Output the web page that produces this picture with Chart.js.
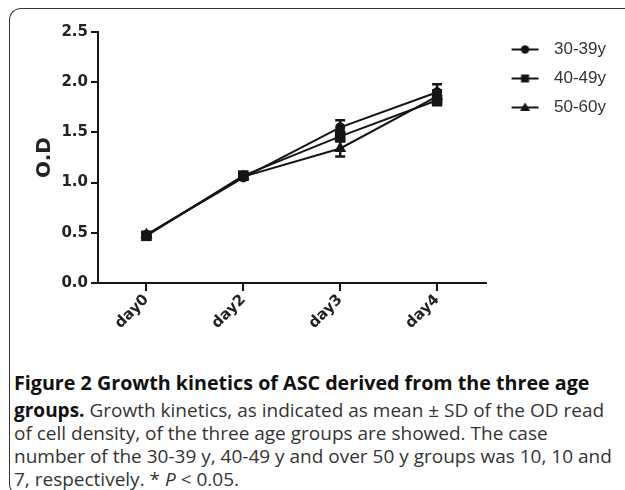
<!DOCTYPE html>
<html>
<head>
<meta charset="utf-8">
<script src="https://cdn.jsdelivr.net/npm/chart.js@4.4.1/dist/chart.umd.min.js"></script>
<style>
  html, body { margin: 0; padding: 0; background: #fff; }
  body { width: 625px; height: 490px; position: relative; overflow: hidden; }
  .frame { position: absolute; left: 9px; top: 8px; width: 700px; height: 486px; border: 1.5px solid #333; border-right: none; border-radius: 12px 0 0 12px; }
  #chart { position: absolute; left: 0; top: 0; }
  .caption { position: absolute; left: 14px; font-family: "Open Sans", sans-serif; font-size: 19px; color: #333; white-space: nowrap; line-height: 1; }
  .caption b { color: #111; }
</style>
</head>
<body>
<div class="frame"></div>
<canvas id="chart" width="625" height="360"></canvas>
<div class="caption" style="top:373px; font-size:19.7px"><b>Figure 2 Growth kinetics of ASC derived from the three age</b></div>
<div class="caption" style="top:401px"><b>groups.</b> Growth kinetics, as indicated as mean ± SD of the OD read</div>
<div class="caption" style="top:424px">of cell density, of the three age groups are showed. The case</div>
<div class="caption" style="top:447px">number of the 30-39 y, 40-49 y and over 50 y groups was 10, 10 and</div>
<div class="caption" style="top:470px">7, respectively. * <i>P</i> &lt; 0.05.</div>
<script>
  const days = ['day0', 'day2', 'day3', 'day4'];
  const groups = ['30-39y', '40-49y', '50-60y'];
  const markers = ['circle', 'rect', 'triangle'];
  const od3039 = [0.48, 1.05, 1.55, 1.90];
  const od4049 = [0.47, 1.07, 1.46, 1.82];
  const od5060 = [0.48, 1.06, 1.34, 1.86];
  const sd3039 = [0.02, 0.02, 0.07, 0.08];
  const sd4049 = [0.02, 0.02, 0.05, 0.05];
  const sd5060 = [0.02, 0.02, 0.08, 0.06];
  const yTicks = [0, 0.5, 1.0, 1.5, 2.0, 2.5];

  const ink = '#151515';
  const tickFont = { family: 'DejaVu Sans', weight: 'bold', size: 15 };

  // small line + marker picture used as the legend symbol
  function legendIcon(kind) {
    const c = document.createElement('canvas');
    c.width = 48; c.height = 17;
    const g = c.getContext('2d');
    g.strokeStyle = ink; g.fillStyle = ink; g.lineWidth = 2;
    g.beginPath(); g.moveTo(14, 8.5); g.lineTo(41, 8.5); g.stroke();
    g.beginPath();
    if (kind === 'circle') g.arc(27.5, 8.5, 4.2, 0, Math.PI * 2);
    else if (kind === 'rect') g.rect(23.5, 4.5, 8, 8);
    else { g.moveTo(27.5, 3.5); g.lineTo(32.5, 12); g.lineTo(22.5, 12); g.closePath(); }
    g.fill();
    return c;
  }

  const errorBars = {
    id: 'errorBars',
    afterDatasetsDraw(chart) {
      const ctx = chart.ctx;
      const y = chart.scales.y;
      ctx.save();
      ctx.strokeStyle = ink;
      ctx.lineWidth = 2.5;
      chart.data.datasets.forEach((ds, di) => {
        chart.getDatasetMeta(di).data.forEach((pt, i) => {
          const top = y.getPixelForValue(ds.data[i] + ds.sd[i]);
          const bot = y.getPixelForValue(ds.data[i] - ds.sd[i]);
          ctx.beginPath();
          ctx.moveTo(pt.x, top); ctx.lineTo(pt.x, bot);
          ctx.moveTo(pt.x - 5, top); ctx.lineTo(pt.x + 5, top);
          ctx.moveTo(pt.x - 5, bot); ctx.lineTo(pt.x + 5, bot);
          ctx.stroke();
        });
      });
      ctx.restore();
    }
  };

  const series = [od3039, od4049, od5060];
  const sds = [sd3039, sd4049, sd5060];
  const radii = [5, 7.5, 7];

  new Chart(document.getElementById('chart'), {
    type: 'line',
    data: {
      labels: days,
      datasets: groups.map((g, i) => ({
        label: g,
        data: series[i],
        sd: sds[i],
        borderColor: ink,
        backgroundColor: ink,
        borderWidth: 2,
        tension: 0,
        pointStyle: markers[i],
        pointRadius: radii[i],
        pointBorderWidth: 0,
        pointBackgroundColor: ink,
        clip: false
      }))
    },
    options: {
      responsive: false,
      animation: false,
      devicePixelRatio: 1,
      layout: { padding: { left: 0, right: 9, top: 29, bottom: 7 } },
      plugins: {
        tooltip: { enabled: false },
        legend: {
          position: 'right',
          align: 'start',
          labels: {
            usePointStyle: true,
            pointStyleWidth: 48,
            padding: 12,
            color: '#333',
            font: { family: 'Liberation Sans', size: 17 },
            generateLabels(chart) {
              const items = Chart.defaults.plugins.legend.labels.generateLabels(chart);
              items.forEach((it, i) => { it.pointStyle = legendIcon(markers[i]); });
              return items;
            }
          }
        }
      },
      scales: {
        x: {
          offset: true,
          afterFit: (s) => { s.height = 70; },
          border: { color: ink, width: 2 },
          grid: { drawOnChartArea: false, color: ink, lineWidth: 2, tickLength: 8 },
          ticks: { font: tickFont, color: '#222', minRotation: 45, maxRotation: 45, autoSkip: false, padding: 0 }
        },
        y: {
          min: 0,
          max: 2.5,
          afterBuildTicks: (s) => { s.ticks = yTicks.map((v) => ({ value: v })); },
          afterFit: (s) => { s.width = 98; s.paddingTop = 32; },
          border: { color: ink, width: 2 },
          grid: { drawOnChartArea: false, color: ink, lineWidth: 2, tickLength: 7 },
          ticks: { font: tickFont, color: '#222', padding: 3, callback: (v) => Number(v).toFixed(1) },
          title: { display: true, text: 'O.D', color: '#222', font: { family: 'DejaVu Sans', weight: 'bold', size: 20 }, padding: { top: 33, bottom: 0 } }
        }
      }
    },
    plugins: [errorBars]
  });
</script>
</body>
</html>
